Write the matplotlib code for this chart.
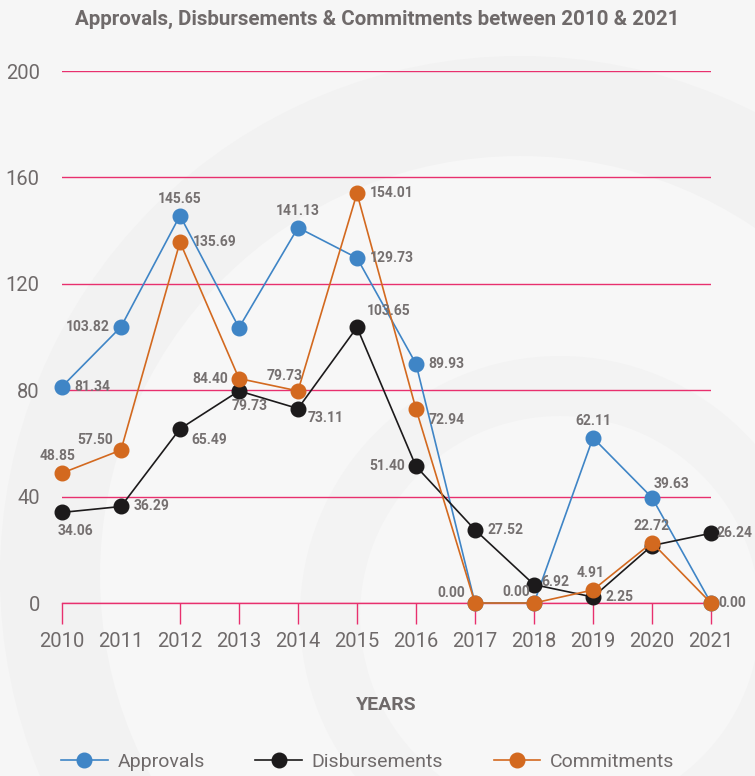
import matplotlib.pyplot as plt
from matplotlib.patches import Circle

plt.rcParams['font.family'] = ['Roboto', 'DejaVu Sans']

years = [2010, 2011, 2012, 2013, 2014, 2015, 2016, 2017, 2018, 2019, 2020, 2021]
approvals = [81.34, 103.82, 145.65, 103.5, 141.13, 129.73, 89.93, 0.00, 0.00, 62.11, 39.63, 0.00]
disbursements = [34.06, 36.29, 65.49, 79.73, 73.11, 103.65, 51.40, 27.52, 6.92, 2.25, 21.6, 26.24]
commitments = [48.85, 57.50, 135.69, 84.40, 79.73, 154.01, 72.94, 0.00, 0.00, 4.91, 22.72, 0.00]
y_ticks = [0, 40, 80, 120, 160, 200]

# label placement per point: (dx, dy, ha, va) in points, None = hidden
appr_pos = [(9, 0, 'left', 'center'), (-8, 0, 'right', 'center'), (0, 7, 'center', 'bottom'), None,
            (0, 7, 'center', 'bottom'), (9, 0, 'left', 'center'), (9, 0, 'left', 'center'), None, None,
            (0, 7, 'center', 'bottom'), (1, 5, 'left', 'bottom'), None]
disb_pos = [(-3, -8, 'left', 'top'), (9, 0, 'left', 'center'), (8, -3, 'left', 'top'), (-5, -6, 'left', 'top'),
            (7, -2, 'left', 'top'), (7, 7, 'left', 'bottom'), (-8, 0, 'right', 'center'), (9, 0, 'left', 'center'),
            (5, 2, 'left', 'center'), (9, 0, 'left', 'center'), None, (4, 0, 'left', 'center')]
comm_pos = [(-3, 7, 'center', 'bottom'), (-6, 2, 'right', 'bottom'), (9, 0, 'left', 'center'), (-8, 0, 'right', 'center'),
            (3, 6, 'right', 'bottom'), (9, 0, 'left', 'center'), (9, -3, 'left', 'top'), (-7, 2, 'right', 'bottom'),
            (-3, 3, 'right', 'bottom'), (-2, 7, 'center', 'bottom'), (0, 7, 'center', 'bottom'), (5, 0, 'left', 'center')]

series = [
    ("Approvals", approvals, "#3f85c6", appr_pos),
    ("Disbursements", disbursements, "#1c1a1b", disb_pos),
    ("Commitments", commitments, "#d3691f", comm_pos),
]

grid_color = "#e8306e"
text_color = "#6f6a6a"

fig = plt.figure(figsize=(7.55, 7.76), dpi=100)
fig.patch.set_facecolor("#f6f6f6")

# faint watermark shapes in a background axes
bg = fig.add_axes([0, 0, 1, 1], zorder=-1)
bg.set_xlim(0, 755)
bg.set_ylim(0, 776)
bg.axis("off")
for (cx, cy, r, c) in [(520, 200, 520, "#f2f2f2"), (520, 200, 420, "#f7f7f7"),
                       (560, 160, 260, "#f3f3f3"), (560, 160, 200, "#f7f7f7")]:
    bg.add_patch(Circle((cx, cy), r, facecolor=c, edgecolor="none"))

ax = fig.add_axes([0.0821, 0.2229, 0.8596, 0.6856], zorder=1)
ax.set_facecolor("none")

for name, vals, color, pos in series:
    ax.plot(years, vals, color=color, lw=1.2, marker="o", markersize=10.5,
            label=name, clip_on=False, zorder=3)
    for x, v, p in zip(years, vals, pos):
        if p is None:
            continue
        dx, dy, ha, va = p
        ax.annotate(f"{v:.2f}", (x, v), xytext=(dx, dy), textcoords="offset points",
                    ha=ha, va=va, fontsize=10, fontweight="bold", color="#757070", zorder=4)

ax.set_xlim(2010, 2021)
ax.set_ylim(0, 200)
ax.set_yticks(y_ticks)
ax.set_xticks(years)
ax.set_xticklabels([str(y) for y in years])
ax.grid(axis="y", color=grid_color, lw=1)
ax.grid(axis="x", visible=False)
for s in ["top", "right", "left"]:
    ax.spines[s].set_visible(False)
ax.spines["bottom"].set_color(grid_color)
ax.spines["bottom"].set_linewidth(1)
ax.tick_params(axis="x", colors=grid_color, length=15, width=1, pad=6, labelsize=14.5, labelcolor=text_color)
ax.tick_params(axis="y", length=0, pad=16, labelsize=14.5, labelcolor=text_color)
ax.get_xticklines()[2].set_visible(False)

ax.set_xlabel("YEARS", fontsize=14, fontweight="bold", color=text_color, labelpad=32)
fig.text(0.5, 0.975, "Approvals, Disbursements & Commitments between 2010 & 2021",
         ha="center", va="center", fontsize=14.8, fontweight="bold", color=text_color)

fig.legend(loc="center", bbox_to_anchor=(0.487, 0.018), ncol=3, frameon=False,
           fontsize=14, labelcolor=text_color, handlelength=2.4, columnspacing=2.6,
           handletextpad=0.5, markerscale=1.0)

fig.savefig("out.png", dpi=100, facecolor=fig.get_facecolor())
